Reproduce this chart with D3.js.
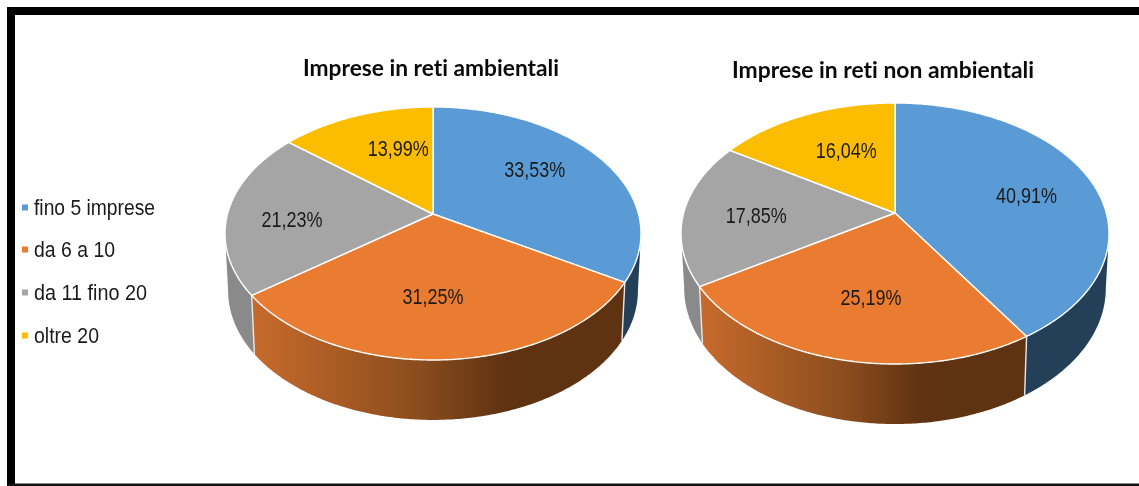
<!DOCTYPE html>
<html><head><meta charset="utf-8">
<script src="https://cdn.jsdelivr.net/npm/d3@7/dist/d3.min.js"></script>
<style>html,body{margin:0;padding:0;background:#fff;overflow:hidden}svg{display:block;filter:blur(.5px)}text{font-variant-ligatures:none}</style>
</head><body><svg id="c" width="1139" height="486"></svg>
<script>
const categories = ["fino 5 imprese", "da 6 a 10", "da 11 fino 20", "oltre 20"];
const valuesAmbientali = [33.53, 31.25, 21.23, 13.99];
const valuesNonAmbientali = [40.91, 25.19, 17.85, 16.04];
const titleAmbientali = "Imprese in reti ambientali";
const titleNonAmbientali = "Imprese in reti non ambientali";
const topColors = ["#5b9bd5", "#ea7c31", "#a5a5a5", "#fcbd00"];
const wallColors = ["#243f58", "url(#orangeWall)", "#8a8a8a", "#a87f00"];

const layout = [
  {values: valuesAmbientali, title: titleAmbientali, tx: 431, ty: 76, tw: 256,
   ax: 433, ay: 214, up: 107, down: 146, halfW: 208, sy: 1.02, dy: 57,
   nudge: [[1,-10],[-7,2],[-20,7],[13,-5]]},
  {values: valuesNonAmbientali, title: titleNonAmbientali, tx: 883, ty: 78, tw: 302,
   ax: 895, ay: 213, up: 110, down: 151, halfW: 214, sy: 1.04, dy: 54,
   nudge: [[15,3],[6,4],[-14,2],[7,-2]]}
];
const legendBaselines = [215, 257, 300, 343];
const legendWidths = [121, 81, 113, 65];

const svg = d3.select("#c");
const defs = svg.append("defs");
const grad = defs.append("linearGradient").attr("id", "orangeWall");
[[0,"#c76b2c"],[.44,"#8c4d1e"],[.68,"#5f3211"],[1,"#5f3211"]].forEach(([o,c]) =>
  grad.append("stop").attr("offset", o).attr("stop-color", c));

// frame
svg.append("rect").attr("x",7).attr("y",7).attr("width",1132).attr("height",8).attr("fill","#000");
svg.append("rect").attr("x",7).attr("y",7).attr("width",8).attr("height",479).attr("fill","#000");
svg.append("rect").attr("x",7).attr("y",483.5).attr("width",1132).attr("height",2.5).attr("fill","#111");

const pieGen = d3.pie().sort(null).value(d => d);
const line = d3.line();

layout.forEach(p => {
  const k = (p.down - p.up) / (p.down + p.up);
  const b = p.up * (1 + k);
  const a = p.halfW * Math.sqrt(1 - k * k);
  // projected circle: apex = circle centre, perspective tilt k
  const proj = (th, r = 1) => {
    const u = r * Math.sin(th), v = r * Math.cos(th), d = 1 + k * v;
    return [p.ax + a * u / d, p.ay - b * v / d];
  };
  const lower = th => {
    const [x, y] = proj(th);
    return [p.ax + (x - p.ax) * 0.985, p.ay + (y - p.ay) * p.sy + p.dy];
  };
  const rim = (t0, t1, f) => {
    const n = Math.max(2, Math.ceil(Math.abs(t1 - t0) / 0.01));
    return d3.range(n + 1).map(i => f(t0 + (t1 - t0) * i / n));
  };
  const arcs = pieGen(p.values);
  const tMin = Math.acos(-k), tMax = 2 * Math.PI - tMin;
  const g = svg.append("g");

  // side walls, only the part facing the viewer
  arcs.forEach((s, i) => {
    const t0 = Math.max(s.startAngle, tMin), t1 = Math.min(s.endAngle, tMax);
    if (t1 <= t0) return;
    const pts = rim(t0, t1, proj).concat(rim(t1, t0, lower));
    g.append("path").attr("d", line(pts) + "Z").attr("fill", wallColors[i]);
  });
  // joints between walls
  arcs.forEach(s => {
    const t = s.endAngle;
    if (t > tMin && t < tMax)
      g.append("path").attr("d", line([proj(t), lower(t)]))
        .attr("stroke", "#e8e8e8").attr("stroke-width", 1.4).attr("fill", "none");
  });
  // top face
  arcs.forEach((s, i) => {
    const pts = [[p.ax, p.ay]].concat(rim(s.startAngle, s.endAngle, proj));
    g.append("path").attr("d", line(pts) + "Z").attr("fill", topColors[i])
      .attr("stroke", "#fff").attr("stroke-width", 1.4).attr("stroke-linejoin", "round");
  });
  // value labels
  arcs.forEach((s, i) => {
    const [x, y] = proj((s.startAngle + s.endAngle) / 2, 0.59);
    g.append("text").attr("x", x + p.nudge[i][0]).attr("y", y + p.nudge[i][1]).attr("dy", ".36em")
      .attr("text-anchor", "middle").attr("font-family", "Liberation Sans").attr("font-size", 22)
      .attr("textLength", 61).attr("lengthAdjust", "spacingAndGlyphs").attr("fill", "#1a1a1a")
      .text(s.value.toFixed(2).replace(".", ",") + "%");
  });
  // title
  svg.append("text").attr("x", p.tx).attr("y", p.ty).attr("text-anchor", "middle")
    .attr("font-family", "Lato").attr("font-weight", 700).attr("font-size", 23)
    .attr("textLength", p.tw).attr("lengthAdjust", "spacingAndGlyphs").attr("fill", "#0a0a0a")
    .text(p.title);
});

// legend
categories.forEach((c, i) => {
  svg.append("rect").attr("x", 22).attr("y", legendBaselines[i] - 10.5).attr("width", 6).attr("height", 6).attr("fill", topColors[i]);
  svg.append("text").attr("x", 34).attr("y", legendBaselines[i])
    .attr("font-family", "Liberation Sans").attr("font-size", 22.5)
    .attr("textLength", legendWidths[i]).attr("lengthAdjust", "spacingAndGlyphs").attr("fill", "#1a1a1a")
    .text(c);
});
</script></body></html>
